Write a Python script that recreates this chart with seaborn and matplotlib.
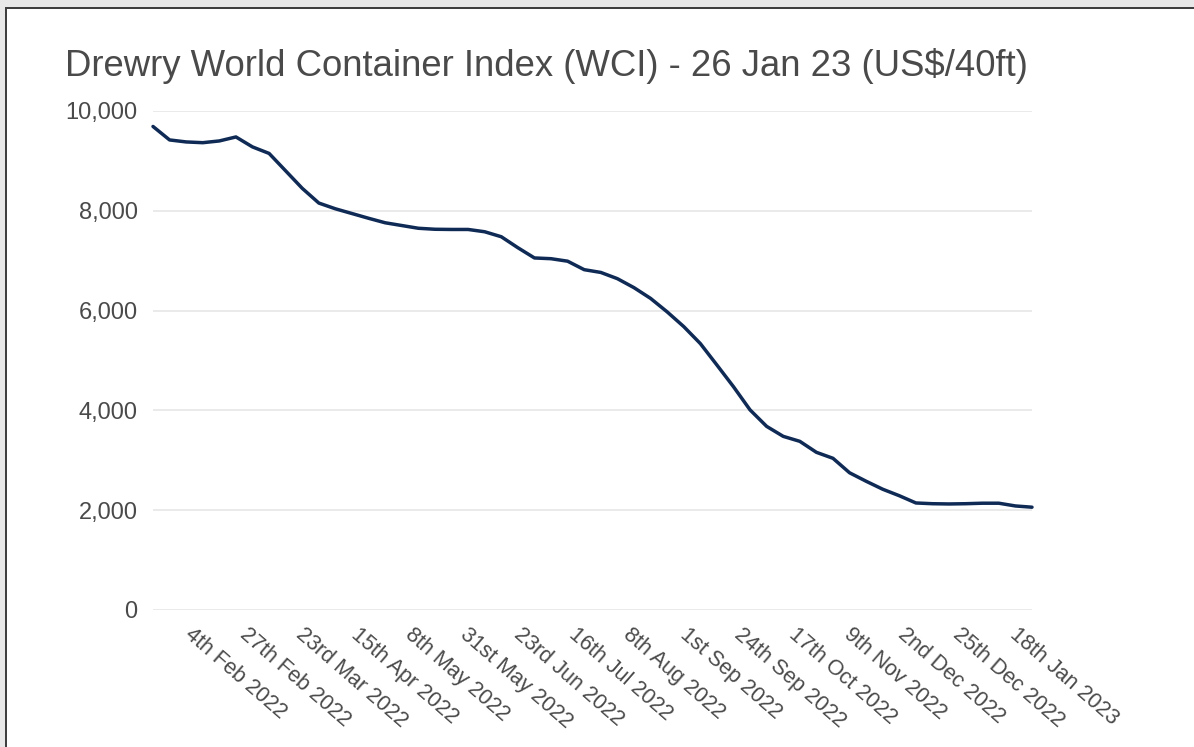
import numpy as np
import pandas as pd
import matplotlib
matplotlib.use('Agg')
import matplotlib.pyplot as plt
import matplotlib.ticker as mticker
import matplotlib.transforms as mtransforms
from matplotlib.patches import Rectangle
import seaborn as sns

# weekly composite index, US$ per 40ft
start_date = '2022-01-20'
wci_values = [
    9690, 9420, 9380, 9365, 9400, 9480, 9280, 9150, 8800, 8450,
    8155, 8040, 7945, 7850, 7760, 7705, 7650, 7630, 7626, 7626,
    7580, 7480, 7260, 7055, 7040, 6990, 6820, 6765, 6640, 6460,
    6245, 5975, 5680, 5340, 4910, 4475, 4010, 3680, 3480, 3380,
    3160, 3040, 2750, 2580, 2420, 2290, 2145, 2130, 2125, 2130,
    2140, 2140, 2085, 2060,
]

tick_dates = [
    '2022-02-04', '2022-02-27', '2022-03-23', '2022-04-15', '2022-05-08',
    '2022-05-31', '2022-06-23', '2022-07-16', '2022-08-08', '2022-09-01',
    '2022-09-24', '2022-10-17', '2022-11-09', '2022-12-02', '2022-12-25',
    '2023-01-18',
]
tick_labels = [
    '4th Feb 2022', '27th Feb 2022', '23rd Mar 2022', '15th Apr 2022',
    '8th May 2022', '31st May 2022', '23rd Jun 2022', '16th Jul 2022',
    '8th Aug 2022', '1st Sep 2022', '24th Sep 2022', '17th Oct 2022',
    '9th Nov 2022', '2nd Dec 2022', '25th Dec 2022', '18th Jan 2023',
]
y_ticks = [0, 2000, 4000, 6000, 8000, 10000]

TITLE = 'Drewry World Container Index (WCI) - 26 Jan 23 (US$/40ft)'
LINE_COLOR = '#0f2a55'
TEXT_COLOR = '#4a4a4a'
GRID_COLOR = '#e6e6e6'

sns.set_theme(style='white')
plt.rcParams['font.family'] = ['Liberation Sans', 'DejaVu Sans']

df = pd.DataFrame({
    'date': pd.date_range(start_date, periods=len(wci_values), freq='7D'),
    'wci': wci_values,
})

W, H = 1194, 747
fig = plt.figure(figsize=(W / 100, H / 100), dpi=100)
ax = fig.add_axes([153 / W, 1 - 610 / H, (1032 - 153) / W, (610 - 111) / H])

sns.lineplot(data=df, x='date', y='wci', ax=ax, color=LINE_COLOR,
             linewidth=2.5, clip_on=False, solid_joinstyle='round', zorder=3)

ax.set_xlim(df.date.iloc[0], df.date.iloc[-1])
ax.set_ylim(0, 10000)
ax.set_yticks(y_ticks)
ax.yaxis.set_major_formatter(mticker.FuncFormatter(lambda v, p: '{:,.0f}'.format(v)))
ax.set_xticks(pd.to_datetime(tick_dates))
ax.set_xticklabels(tick_labels)
ax.grid(axis='y', color=GRID_COLOR, lw=1.2)
ax.grid(axis='x', visible=False)
for s in ax.spines.values():
    s.set_visible(False)
ax.set_xlabel('')
ax.set_ylabel('')

ax.tick_params(axis='y', length=0, pad=11, labelsize=17, labelcolor=TEXT_COLOR)
ax.tick_params(axis='x', length=0, pad=10, labelsize=15.5, labelcolor=TEXT_COLOR)
offset = mtransforms.ScaledTranslation(6 / 100, 0, fig.dpi_scale_trans)
for lab in ax.get_xticklabels():
    lab.set_rotation(-41)
    lab.set_ha('left')
    lab.set_va('top')
    lab.set_rotation_mode('anchor')
    lab.set_transform(lab.get_transform() + offset)

fig.text(65 / W, 1 - 76 / H, TITLE, fontsize=26.3, color=TEXT_COLOR,
         ha='left', va='baseline')

# screenshot frame
fig.patches.append(Rectangle((0, 1 - 7 / H), 1, 7 / H, transform=fig.transFigure,
                             facecolor='#e8e8e8', edgecolor='none', zorder=0))
fig.patches.append(Rectangle((0, 0), 5 / W, 1, transform=fig.transFigure,
                             facecolor='#e8e8e8', edgecolor='none', zorder=0))
fig.patches.append(Rectangle((5 / W, 1 - 9 / H), 1, 2 / H, transform=fig.transFigure,
                             facecolor='#3f3f3f', edgecolor='none', zorder=1))
fig.patches.append(Rectangle((5 / W, 0), 2 / W, 1 - 7 / H, transform=fig.transFigure,
                             facecolor='#3f3f3f', edgecolor='none', zorder=1))

fig.savefig('out.png', dpi=100, facecolor='white')
